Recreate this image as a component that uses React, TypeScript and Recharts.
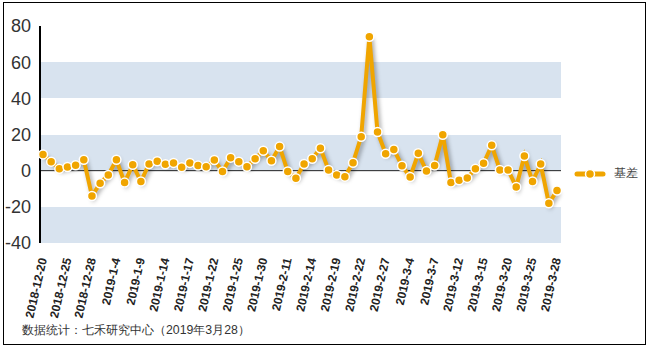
import { LineChart, Line, XAxis, YAxis, CartesianGrid, ReferenceLine, Legend } from 'recharts';

const dates = [
  '2018-12-20', '2018-12-21', '2018-12-24', '2018-12-25', '2018-12-26', '2018-12-27', '2018-12-28',
  '2019-1-2', '2019-1-3', '2019-1-4', '2019-1-7', '2019-1-8', '2019-1-9', '2019-1-10', '2019-1-11',
  '2019-1-14', '2019-1-15', '2019-1-16', '2019-1-17', '2019-1-18', '2019-1-21', '2019-1-22', '2019-1-23',
  '2019-1-24', '2019-1-25', '2019-1-28', '2019-1-29', '2019-1-30', '2019-1-31', '2019-2-1', '2019-2-11',
  '2019-2-12', '2019-2-13', '2019-2-14', '2019-2-15', '2019-2-18', '2019-2-19', '2019-2-20', '2019-2-21',
  '2019-2-22', '2019-2-25', '2019-2-26', '2019-2-27', '2019-2-28', '2019-3-1', '2019-3-4', '2019-3-5',
  '2019-3-6', '2019-3-7', '2019-3-8', '2019-3-11', '2019-3-12', '2019-3-13', '2019-3-14', '2019-3-15',
  '2019-3-18', '2019-3-19', '2019-3-20', '2019-3-21', '2019-3-22', '2019-3-25', '2019-3-26', '2019-3-27',
  '2019-3-28',
];

// 基差
const basis = [
  9, 5, 1, 2, 3, 6, -14, -7, -2.4, 6, -6.6, 3.3, -6, 3.7, 5.2, 3.5, 4.3, 1.9, 4.3, 2.8,
  2.1, 5.9, -0.5, 7.2, 5, 2.2, 6.6, 11, 5.5, 13.3, -0.5, -4.2, 3.7, 6.6, 12.4, 0.4, -2.4, -3.3,
  4.4, 18.8, 74.1, 21.4, 9.4, 11.7, 2.7, -3.5, 9.6, -0.2, 2.8, 19.9, -6.6, -5.3, -4, 1.1, 4.1,
  14, 0.4, 0.4, -9, 8.1, -6, 3.7, -18, -11,
];

const yTicks = [-40, -20, 0, 20, 40, 60, 80];

const data = dates.map((d, i) => ({ date: d, basis: basis[i] }));

const FONT = '"Liberation Sans", Arial, sans-serif';
const ORANGE = '#F0A500';

const DateTick = ({ x, y, payload }: any) => (
  <text
    transform={`translate(${x},${y + 7}) rotate(-77)`}
    textAnchor="end"
    dy="0.35em"
    fontSize={12}
    fontWeight="bold"
    fontFamily={FONT}
    fill="#222"
  >
    {payload.value}
  </text>
);

const LegendContent = () => (
  <div style={{ display: 'flex', alignItems: 'center', fontFamily: FONT, fontSize: 12, color: '#444' }}>
    <svg width={32} height={14}>
      <line x1={3} y1={7} x2={29} y2={7} stroke={ORANGE} strokeWidth={5} strokeLinecap="round" />
      <circle cx={16} cy={7} r={4.5} fill={ORANGE} stroke="#fff" strokeWidth={1.5} />
    </svg>
    <span style={{ marginLeft: 8 }}>基差</span>
  </div>
);

export default function App() {
  return (
    <div style={{ position: 'absolute', left: 0, top: 0, width: 648, height: 352, background: '#fff' }}>
      <style>{`.recharts-line-curve{filter:drop-shadow(2px 2px 2px rgba(0,0,0,0.35));}`}</style>
      <div
        style={{
          position: 'absolute', left: 3, top: 2, width: 641, height: 341,
          border: '1.5px solid #000',
        }}
      />
      <div style={{ position: 'absolute', left: 0, top: 0 }}>
        <LineChart
          width={648}
          height={352}
          data={data}
          margin={{ top: 26, right: 87, bottom: 29, left: 0 }}
        >
          <CartesianGrid
            vertical={false}
            stroke="none"
            horizontalFill={['#ffffff', '#d8e3ef']}
          />
          <XAxis
            dataKey="date"
            interval={2}
            axisLine={false}
            tickLine={false}
            height={80}
            padding={{ left: 3, right: 4 }}
            tick={<DateTick />}
          />
          <YAxis
            domain={[-40, 80]}
            ticks={yTicks}
            width={40}
            axisLine={{ stroke: '#000', strokeWidth: 2 }}
            tickLine={false}
            tickMargin={3}
            tick={{ fontSize: 18, fontFamily: FONT, fill: '#333' }}
          />
          <ReferenceLine y={0} stroke="#222" strokeWidth={1} />
          <Legend
            layout="vertical"
            align="center"
            verticalAlign="middle"
            wrapperStyle={{ left: 574, top: 165, width: 80 }}
            content={<LegendContent />}
          />
          <Line
            type="linear"
            dataKey="basis"
            name="基差"
            stroke={ORANGE}
            strokeWidth={4}
            dot={{ r: 4.5, fill: ORANGE, stroke: '#fff', strokeWidth: 1.5 }}
            activeDot={false}
            isAnimationActive={false}
          />
        </LineChart>
      </div>
      <div
        style={{
          position: 'absolute', left: 22, top: 322, fontFamily: FONT, fontSize: 12.3, color: '#333',
        }}
      >
        数据统计：七禾研究中心（2019年3月28）
      </div>
    </div>
  );
}
